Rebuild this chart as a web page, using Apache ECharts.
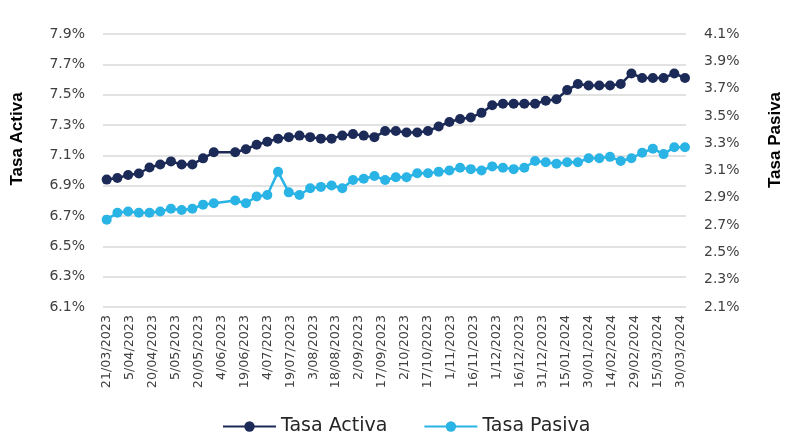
<!DOCTYPE html>
<html>
<head>
<meta charset="utf-8">
<script src="https://cdn.jsdelivr.net/npm/echarts@6/dist/echarts.min.js"></script>
<style>
  html, body { margin: 0; padding: 0; background: #ffffff; }
  #chart { width: 788px; height: 434px; }
</style>
</head>
<body>
<div id="chart"></div>
<script>
// Weekly observation dates (no observation on 2023-06-06)
const dates = [
  '2023-03-21', '2023-03-28', '2023-04-04', '2023-04-11', '2023-04-18', '2023-04-25',
  '2023-05-02', '2023-05-09', '2023-05-16', '2023-05-23', '2023-05-30',
  '2023-06-13', '2023-06-20', '2023-06-27', '2023-07-04', '2023-07-11', '2023-07-18',
  '2023-07-25', '2023-08-01', '2023-08-08', '2023-08-15', '2023-08-22', '2023-08-29',
  '2023-09-05', '2023-09-12', '2023-09-19', '2023-09-26', '2023-10-03', '2023-10-10',
  '2023-10-17', '2023-10-24', '2023-10-31', '2023-11-07', '2023-11-14', '2023-11-21',
  '2023-11-28', '2023-12-05', '2023-12-12', '2023-12-19', '2023-12-26', '2024-01-02',
  '2024-01-09', '2024-01-16', '2024-01-23', '2024-01-30', '2024-02-06', '2024-02-13',
  '2024-02-20', '2024-02-27', '2024-03-05', '2024-03-12', '2024-03-19', '2024-03-26',
  '2024-04-02'
];

// Lending rate (%), left axis
const tasaActiva = [
  6.94, 6.95, 6.97, 6.98, 7.02, 7.04, 7.06, 7.04, 7.04, 7.08, 7.12,
  7.12, 7.14, 7.17, 7.19, 7.21, 7.22, 7.23, 7.22, 7.21, 7.21, 7.23, 7.24,
  7.23, 7.22, 7.26, 7.26, 7.25, 7.25, 7.26, 7.29, 7.32, 7.34, 7.35, 7.38,
  7.43, 7.44, 7.44, 7.44, 7.44, 7.46, 7.47, 7.53, 7.57, 7.56, 7.56, 7.56,
  7.57, 7.64, 7.61, 7.61, 7.61, 7.64, 7.61
];

// Deposit rate (%), right axis
const tasaPasiva = [
  2.74, 2.79, 2.80, 2.79, 2.79, 2.80, 2.82, 2.81, 2.82, 2.85, 2.86,
  2.88, 2.86, 2.91, 2.92, 3.09, 2.94, 2.92, 2.97, 2.98, 2.99, 2.97, 3.03,
  3.04, 3.06, 3.03, 3.05, 3.05, 3.08, 3.08, 3.09, 3.10, 3.12, 3.11, 3.10,
  3.13, 3.12, 3.11, 3.12, 3.17, 3.16, 3.15, 3.16, 3.16, 3.19, 3.19, 3.20,
  3.17, 3.19, 3.23, 3.26, 3.22, 3.27, 3.27
];

// Date axis labels, every 15 days
const tickDates = [
  '2023-03-21', '2023-04-05', '2023-04-20', '2023-05-05', '2023-05-20', '2023-06-04',
  '2023-06-19', '2023-07-04', '2023-07-19', '2023-08-03', '2023-08-18', '2023-09-02',
  '2023-09-17', '2023-10-02', '2023-10-17', '2023-11-01', '2023-11-16', '2023-12-01',
  '2023-12-16', '2023-12-31', '2024-01-15', '2024-01-30', '2024-02-14', '2024-02-29',
  '2024-03-15', '2024-03-30'
];

// Left axis ticks: 6.1% .. 7.9%, right axis ticks: 2.1% .. 4.1%
const activaAxis = { min: 6.1, max: 7.9, step: 0.2 };
const pasivaAxis = { min: 2.1, max: 4.1, step: 0.2 };

const seriesNames = ['Tasa Activa', 'Tasa Pasiva'];
const colors = ['#1c2a57', '#29b4e5'];

// Dates are placed on a linear millisecond scale
function toTime(s, hours) {
  const p = s.split('-').map(Number);
  return new Date(p[0], p[1] - 1, p[2], hours || 0).getTime();
}
function fmtDate(v) {
  const d = new Date(Math.round(v));
  const m = d.getMonth() + 1;
  return d.getDate() + '/' + (m < 10 ? '0' + m : m) + '/' + d.getFullYear();
}
function fmtPct(v) { return v.toFixed(1) + '%'; }

const labelFont = 'DejaVu Sans';
const chart = echarts.init(document.getElementById('chart'), null, { renderer: 'canvas' });

chart.setOption({
  animation: false,
  backgroundColor: '#ffffff',
  grid: { left: 103, right: 102, top: 34, bottom: 127, containLabel: false },
  legend: {
    data: seriesNames,
    left: 217,
    top: 412,
    itemWidth: 53,
    itemHeight: 13,
    itemGap: 36,
    textStyle: { fontFamily: labelFont, fontSize: 19, color: '#262626' }
  },
  xAxis: {
    type: 'value',
    min: toTime('2023-03-18', 14),
    max: toTime('2024-04-02', 16),
    axisLine: { show: false },
    axisTick: { show: false },
    splitLine: { show: false },
    axisLabel: {
      customValues: tickDates.map(s => toTime(s)),
      rotate: 90,
      margin: 8,
      fontFamily: labelFont,
      fontSize: 12.7,
      color: '#404040',
      formatter: fmtDate,
      hideOverlap: false
    }
  },
  yAxis: [
    {
      type: 'value',
      min: activaAxis.min,
      max: activaAxis.max,
      interval: activaAxis.step,
      axisLine: { show: false },
      axisTick: { show: false },
      splitLine: { show: true, lineStyle: { color: '#d9d9d9', width: 1.5 } },
      axisLabel: { margin: 18, fontFamily: labelFont, fontSize: 14, color: '#404040', formatter: fmtPct }
    },
    {
      type: 'value',
      min: pasivaAxis.min,
      max: pasivaAxis.max,
      interval: pasivaAxis.step,
      axisLine: { show: false },
      axisTick: { show: false },
      splitLine: { show: false },
      axisLabel: { margin: 18, fontFamily: labelFont, fontSize: 14, color: '#404040', formatter: fmtPct }
    }
  ],
  series: [
    {
      name: seriesNames[0],
      type: 'line',
      yAxisIndex: 0,
      data: dates.map((d, i) => [toTime(d), tasaActiva[i]]),
      symbol: 'circle',
      symbolSize: 10,
      lineStyle: { width: 2.5, color: colors[0] },
      itemStyle: { color: colors[0] }
    },
    {
      name: seriesNames[1],
      type: 'line',
      yAxisIndex: 1,
      data: dates.map((d, i) => [toTime(d), tasaPasiva[i]]),
      symbol: 'circle',
      symbolSize: 10,
      lineStyle: { width: 2.5, color: colors[1] },
      itemStyle: { color: colors[1] }
    }
  ],
  graphic: [
    {
      type: 'text',
      x: 17, y: 139,
      rotation: Math.PI / 2,
      style: {
        text: 'Tasa Activa',
        font: 'bold 17px "Liberation Sans", Arial, sans-serif',
        fill: '#000000',
        align: 'center',
        verticalAlign: 'middle'
      }
    },
    {
      type: 'text',
      x: 775, y: 140,
      rotation: Math.PI / 2,
      style: {
        text: 'Tasa Pasiva',
        font: 'bold 17px "Liberation Sans", Arial, sans-serif',
        fill: '#000000',
        align: 'center',
        verticalAlign: 'middle'
      }
    }
  ]
});
</script>
</body>
</html>
